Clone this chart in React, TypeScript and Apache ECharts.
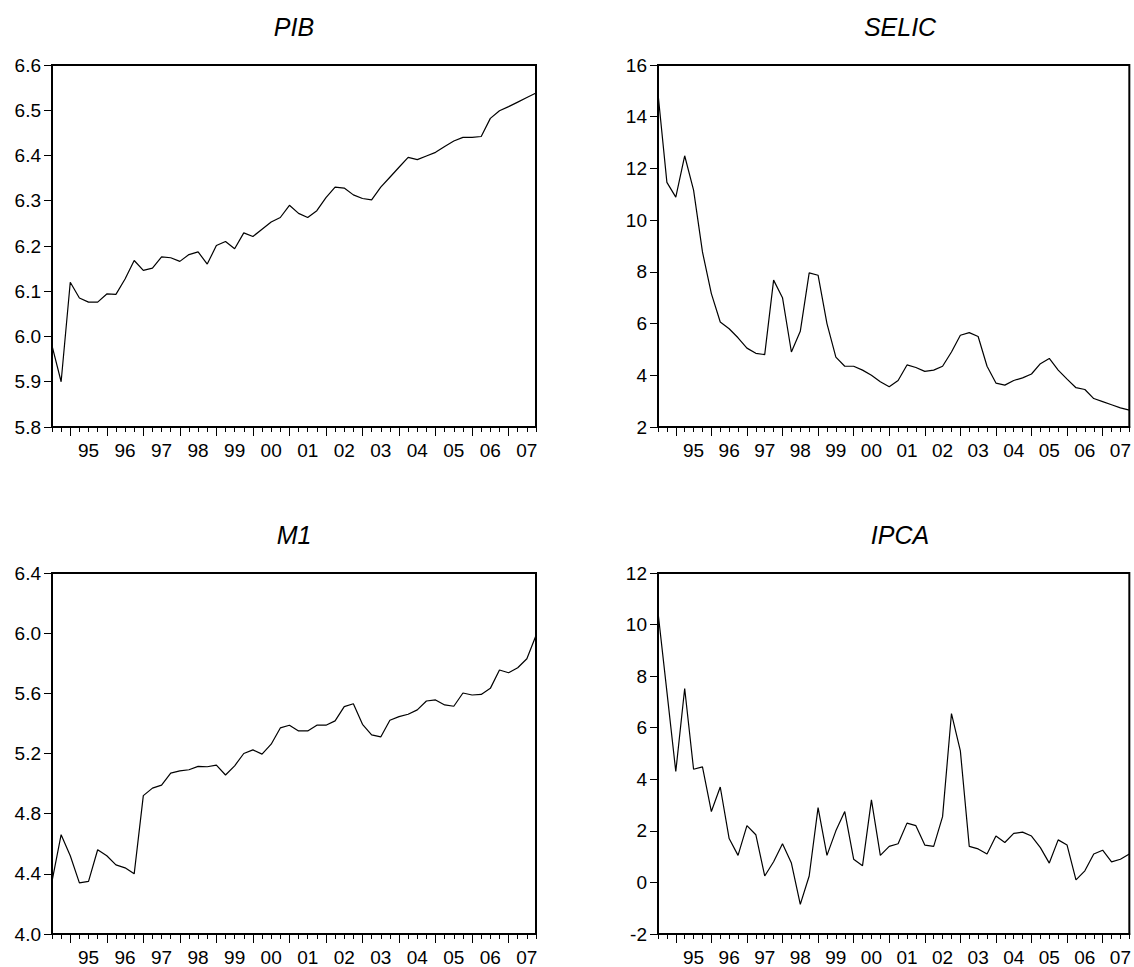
import React, { useEffect, useRef } from 'react';
import * as echarts from 'echarts';

// Quarterly categories 1994Q3 .. 2007Q4
const quarters: string[] = [];
for (let y = 1994; y <= 2007; y++) {
  for (let q = 1; q <= 4; q++) {
    if (y === 1994 && q < 3) continue;
    quarters.push(`${y}Q${q}`);
  }
}

const pib = [5.98, 5.90, 6.12, 6.085, 6.076, 6.076, 6.094, 6.093, 6.127, 6.168, 6.146, 6.151, 6.176, 6.174, 6.166, 6.181, 6.187, 6.160, 6.201, 6.210, 6.194, 6.229, 6.221, 6.237, 6.253, 6.263, 6.290, 6.272, 6.263, 6.278, 6.307, 6.330, 6.328, 6.313, 6.305, 6.302, 6.330, 6.352, 6.374, 6.396, 6.391, 6.399, 6.407, 6.420, 6.432, 6.440, 6.440, 6.442, 6.482, 6.499, 6.508, 6.518, 6.528, 6.538];

const selic = [14.9, 11.46, 10.89, 12.49, 11.16, 8.77, 7.16, 6.06, 5.8, 5.45, 5.05, 4.85, 4.8, 7.68, 7.0, 4.9, 5.7, 7.96, 7.87, 6.0, 4.7, 4.35, 4.35, 4.2, 4.0, 3.75, 3.56, 3.8, 4.4, 4.3, 4.15, 4.2, 4.35, 4.9, 5.55, 5.65, 5.5, 4.35, 3.7, 3.62, 3.8, 3.9, 4.05, 4.45, 4.65, 4.2, 3.85, 3.52, 3.45, 3.1, 2.98, 2.86, 2.74, 2.65];

const m1 = [4.35, 4.66, 4.52, 4.34, 4.35, 4.56, 4.52, 4.46, 4.44, 4.40, 4.92, 4.97, 4.99, 5.07, 5.085, 5.092, 5.114, 5.112, 5.123, 5.057, 5.118, 5.2, 5.224, 5.196, 5.262, 5.37, 5.388, 5.35, 5.35, 5.388, 5.388, 5.417, 5.512, 5.531, 5.394, 5.324, 5.31, 5.421, 5.445, 5.461, 5.49, 5.549, 5.556, 5.523, 5.514, 5.602, 5.589, 5.593, 5.633, 5.755, 5.737, 5.77, 5.83, 5.985];

const ipca = [10.48, 7.4, 4.3, 7.52, 4.39, 4.48, 2.75, 3.7, 1.7, 1.05, 2.2, 1.85, 0.25, 0.8, 1.5, 0.75, -0.85, 0.25, 2.9, 1.05, 2.0, 2.75, 0.9, 0.65, 3.2, 1.05, 1.4, 1.5, 2.3, 2.2, 1.45, 1.4, 2.55, 6.55, 5.1, 1.4, 1.3, 1.1, 1.8, 1.55, 1.9, 1.95, 1.8, 1.35, 0.75, 1.65, 1.45, 0.1, 0.45, 1.1, 1.25, 0.8, 0.9, 1.1];

const titles = ['PIB', 'SELIC', 'M1', 'IPCA'];
const yMins = [5.8, 2, 4.0, -2];
const yMaxs = [6.6, 16, 6.4, 12];
const yIntervals = [0.1, 2, 0.4, 2];
const yDecimals = [1, 0, 1, 0];

const FONT = '"Liberation Sans", Arial, Helvetica, sans-serif';

export default function App() {
  const ref = useRef<HTMLDivElement>(null);

  useEffect(() => {
    if (!ref.current) return;
    const chart = echarts.init(ref.current, null, { renderer: 'svg' });

    const seriesData = [pib, selic, m1, ipca];
    const rects = [
      { left: 52, top: 65 },
      { left: 658, top: 65 },
      { left: 52, top: 573 },
      { left: 658, top: 573 },
    ];
    const W = 484;
    const H = 362;

    const grids: any[] = [];
    const xAxes: any[] = [];
    const yAxes: any[] = [];
    const series: any[] = [];
    const graphics: any[] = [];

    rects.forEach((r, g) => {
      grids.push({
        left: r.left,
        top: r.top,
        width: W,
        height: H,
        show: true,
        borderColor: '#000',
        borderWidth: 2,
        backgroundColor: 'transparent',
      });
      xAxes.push({
        type: 'category',
        gridIndex: g,
        data: quarters,
        boundaryGap: false,
        position: 'bottom',
        axisLine: { show: true, onZero: false, lineStyle: { color: '#000', width: 2 } },
        axisTick: { show: true, interval: 0, length: 5, lineStyle: { color: '#000', width: 1 } },
        axisLabel: {
          interval: (i: number) => i % 4 === 0 && i > 0,
          formatter: (v: string) => v.slice(2, 4),
          color: '#000',
          fontSize: 19,
          fontFamily: FONT,
          margin: 14,
        },
        splitLine: { show: false },
      });
      xAxes.push({
        type: 'category',
        gridIndex: g,
        data: quarters,
        boundaryGap: false,
        position: 'bottom',
        axisLine: { show: false, onZero: false },
        axisTick: {
          show: true,
          interval: (i: number) => i % 4 === 2,
          length: 9,
          lineStyle: { color: '#000', width: 1 },
        },
        axisLabel: { show: false },
        splitLine: { show: false },
      });
      yAxes.push({
        type: 'value',
        gridIndex: g,
        min: yMins[g],
        max: yMaxs[g],
        interval: yIntervals[g],
        axisLine: { show: true, onZero: false, lineStyle: { color: '#000', width: 2 } },
        axisTick: { show: true, length: 8, lineStyle: { color: '#000', width: 1 } },
        axisLabel: {
          color: '#000',
          fontSize: 19,
          fontFamily: FONT,
          margin: 11,
          formatter: (v: number) => v.toFixed(yDecimals[g]),
        },
        splitLine: { show: false },
      });
      series.push({
        type: 'line',
        name: titles[g],
        xAxisIndex: g * 2,
        yAxisIndex: g,
        data: seriesData[g],
        symbol: 'none',
        showSymbol: false,
        silent: true,
        lineStyle: { color: '#000', width: 1.2 },
      });
      graphics.push({
        type: 'text',
        x: r.left + W / 2,
        y: r.top - 38,
        style: {
          text: titles[g],
          font: `italic 25px ${FONT}`,
          fill: '#000',
          textAlign: 'center',
          textVerticalAlign: 'middle',
        },
      });
    });

    chart.setOption({
      animation: false,
      backgroundColor: '#fff',
      grid: grids,
      xAxis: xAxes,
      yAxis: yAxes,
      series,
      graphic: graphics,
    });

    return () => chart.dispose();
  }, []);

  return (
    <div
      ref={ref}
      style={{ position: 'absolute', left: 0, top: 0, width: 1134, height: 967 }}
    />
  );
}
